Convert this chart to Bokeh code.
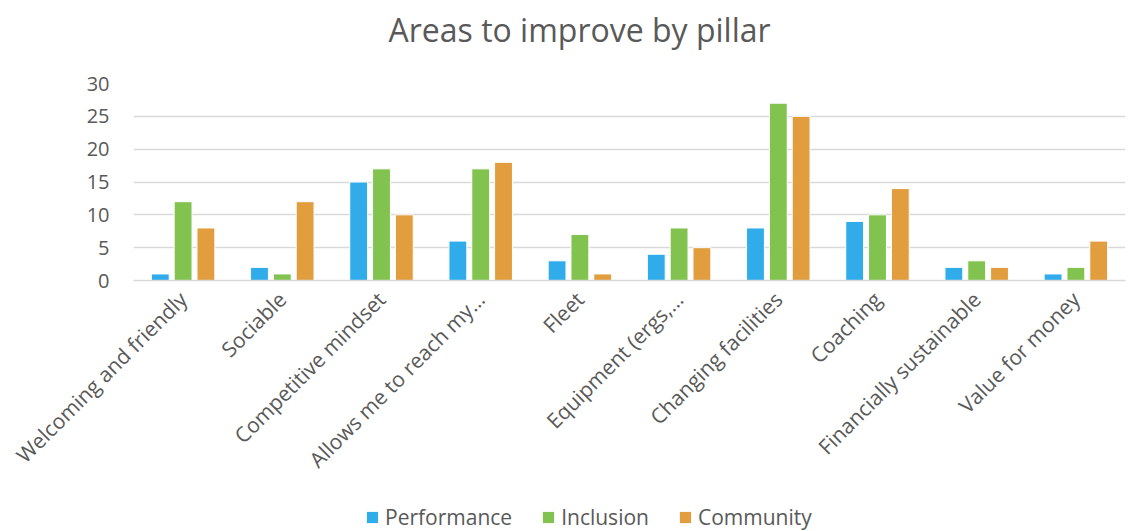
import math
from bokeh.plotting import figure
from bokeh.layouts import column
from bokeh.models import FactorRange, Range1d, ColumnDataSource, Legend, LegendItem
from bokeh.transform import dodge
from bokeh.embed import file_html
from bokeh.resources import INLINE

categories = ["Welcoming and friendly", "Sociable", "Competitive mindset",
              "Allows me to reach my\u2026", "Fleet", "Equipment (ergs,\u2026",
              "Changing facilities", "Coaching", "Financially sustainable",
              "Value for money"]
series_names = ["Performance", "Inclusion", "Community"]
performance = [1, 2, 15, 6, 3, 4, 8, 9, 2, 1]
inclusion = [12, 1, 17, 17, 7, 8, 27, 10, 3, 2]
community = [8, 12, 10, 18, 1, 5, 25, 14, 2, 6]
y_ticks = [0, 5, 10, 15, 20, 25, 30]

FONT = "Open Sans"
TXT = "#595959"
COLORS = ["#31ACEA", "#82C34F", "#E19D3E"]
COLS = ["perf", "inc", "com"]
OFFS = [-0.23, 0.0, 0.23]

src = ColumnDataSource(dict(cat=categories, perf=performance, inc=inclusion, com=community))

# header strip with the title
hd = figure(width=1135, height=60, x_range=Range1d(0, 1), y_range=Range1d(0, 1),
            output_backend="svg", toolbar_location=None, x_axis_type=None, y_axis_type=None,
            min_border=0)
hd.outline_line_color = None
hd.xgrid.grid_line_color = None
hd.ygrid.grid_line_color = None
hd.title.text = "Areas to improve by pillar"
hd.title.align = "left"
hd.title.vertical_align = "top"
hd.title.text_font = FONT
hd.title.text_font_size = "32px"
hd.title.text_font_style = "normal"
hd.title.text_color = TXT
hd.title.offset = 255
hd.title.standoff = 14

# main chart
p = figure(width=1135, height=440, x_range=FactorRange(factors=categories, range_padding=0),
           y_range=Range1d(0, 30), output_backend="svg", toolbar_location=None,
           min_border_left=133, min_border_right=10, min_border_top=23, min_border_bottom=220)

for col, off, c in zip(COLS, OFFS, COLORS):
    p.vbar(x=dodge("cat", off, range=p.x_range), top=col, width=0.18, source=src,
           fill_color=c, line_color="white", line_width=1)

p.outline_line_color = None
p.xgrid.grid_line_color = None
p.ygrid.grid_line_color = "#D9D9D9"
p.ygrid.grid_line_width = 1.5
p.yaxis.ticker = y_ticks
p.yaxis.axis_line_color = None
p.yaxis.major_tick_line_color = None
p.yaxis.minor_tick_line_color = None
p.yaxis.major_label_text_font = FONT
p.yaxis.major_label_text_font_size = "20px"
p.yaxis.major_label_text_color = TXT
p.yaxis.major_label_standoff = 18

p.xaxis.axis_line_color = "#D9D9D9"
p.xaxis.axis_line_width = 1.5
p.xaxis.major_tick_line_color = None
p.xaxis.minor_tick_line_color = None
p.xaxis.major_label_orientation = math.pi / 4
p.xaxis.major_label_text_font = FONT
p.xaxis.major_label_text_font_size = "21px"
p.xaxis.major_label_text_color = TXT
p.xaxis.major_label_standoff = 9

# legend strip (zero-width bars out of view; only their legend swatches show)
lg = figure(width=1135, height=31, x_range=FactorRange(factors=categories), y_range=Range1d(-10, -9),
            output_backend="svg", toolbar_location=None, x_axis_type=None, y_axis_type=None,
            min_border=0)
lg.outline_line_color = None
lg.xgrid.grid_line_color = None
lg.ygrid.grid_line_color = None
items = []
for name, col, off, c in zip(series_names, COLS, OFFS, COLORS):
    r = lg.vbar(x=dodge("cat", off, range=lg.x_range), top=col, width=0, source=src,
                fill_color=c, line_color=None)
    items.append(LegendItem(label=name, renderers=[r]))
legend = Legend(items=items, orientation="horizontal", location=(232, 0),
                label_text_font=FONT, label_text_font_size="21px", label_text_color=TXT,
                glyph_width=14, glyph_height=14, spacing=29, label_standoff=6,
                background_fill_alpha=0, border_line_color=None, padding=0, margin=0)
lg.add_layout(legend, "center")

layout = column(hd, p, lg, spacing=0)
open("out.html", "w").write(file_html(layout, INLINE))
